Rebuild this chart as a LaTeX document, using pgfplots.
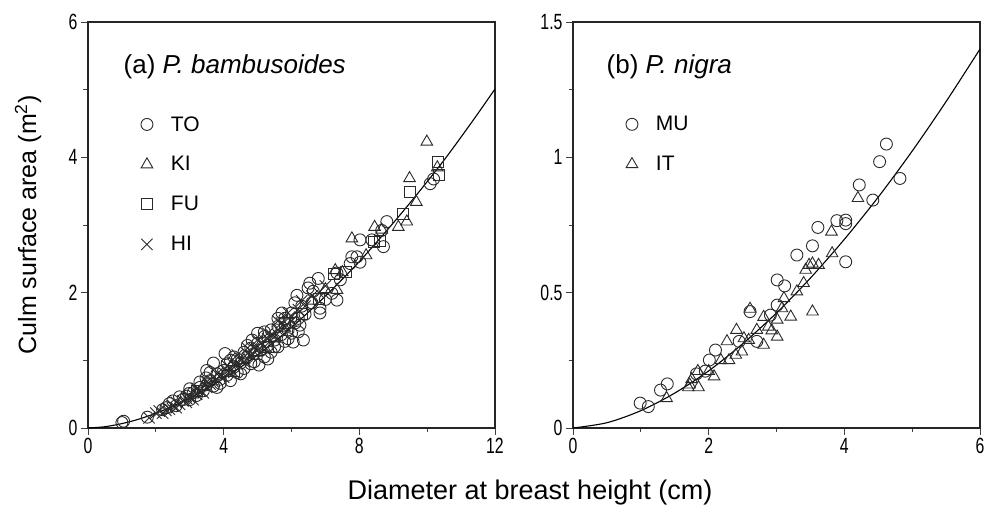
\documentclass[border=0pt]{standalone}
\usepackage{fontspec}
\setmainfont{Liberation Sans}
\newfontfamily\tickfont[FakeStretch=0.72]{Liberation Sans}
\usepackage{pgfplots}
\pgfplotsset{compat=1.18}

\definecolor{mk}{HTML}{2A2A2A}

\pgfplotsset{
  bamboo/.style={
    scale only axis, width=407pt, height=406pt,
    axis line style={line width=1.1pt, black!85},
    tick align=outside, xtick pos=left, ytick pos=left,
    major tick length=7pt, minor tick length=4.5pt,
    tick style={line width=0.8pt, black!75},
    minor x tick num=1, minor y tick num=1,
    tick label style={font=\tickfont\fontsize{22}{22}\selectfont},
    /pgf/number format/assume math mode=true,
    legend style={draw=none, fill=none, font=\fontsize{21}{21}\selectfont,
      row sep=20pt, inner xsep=0pt, inner ysep=0pt},
    legend cell align=left,
    clip=false,
  },
  legimg/.style={legend image code/.code={\draw[##1, only marks] plot coordinates {(14pt,0pt)}; \path[draw=none] (0pt,0pt) (36pt,0pt);}},
  pTO/.style={only marks, legimg, mark=o, mark size=6pt, mark options={draw=mk, line width=0.9pt, fill=none}},
  pKI/.style={only marks, legimg, mark=triangle, mark size=6.7pt, mark options={draw=mk, line width=0.9pt, fill=none}},
  pFU/.style={only marks, legimg, mark=square, mark size=5.5pt, mark options={draw=mk, line width=0.9pt, fill=none}},
  pHI/.style={only marks, legimg, mark=x, mark size=8pt, mark options={draw=mk, line width=0.9pt}},
}

\begin{document}
\begin{tikzpicture}
\useasboundingbox (-88pt,-85pt) rectangle (898pt,428pt);

% ---------------- (a) ----------------
\begin{axis}[bamboo, at={(0pt,0pt)},
  xmin=0, xmax=12, ymin=0, ymax=6,
  xtick={0,4,8,12}, ytick={0,2,4,6},
  ylabel={Culm surface area (m\textsuperscript{2})},
  ylabel style={at={(axis description cs:-0.147,0.5)}, anchor=center, rotate=0, font=\fontsize{25}{25}\selectfont},
  legend style={at={(axis description cs:0.11,0.773)}, anchor=north west},
]
\addplot[pTO] coordinates {
(1.0,0.08)(1.05,0.10)(1.75,0.16)(2.2,0.27)(2.3,0.30)(2.6,0.33)(2.7,0.46)(2.9,0.47)(3.0,0.42)(2.98,0.51)
(3.1,0.52)(3.2,0.48)(3.3,0.60)(3.4,0.55)(3.48,0.74)(3.5,0.64)(3.6,0.70)(3.7,0.96)(3.7,0.62)(3.8,0.80)
(3.9,0.72)(4.0,0.85)(4.04,1.10)(4.1,0.78)(4.1,0.95)(4.2,0.70)(4.3,0.90)(4.4,1.02)(4.4,0.82)(4.5,0.96)
(4.6,1.12)(4.6,0.88)(4.7,1.05)(4.84,1.30)(4.8,0.95)(4.9,1.10)(5.0,1.25)(5.04,0.93)(5.1,1.15)(5.2,1.35)
(5.2,1.05)(5.3,1.22)(5.4,1.45)(5.4,1.12)(5.5,1.30)(5.6,1.50)(5.6,1.20)(5.72,1.70)(5.8,1.62)(5.8,1.28)
(5.9,1.45)(6.0,1.70)(6.05,1.27)(6.1,1.55)(6.16,1.96)(6.2,1.62)(6.25,1.52)(6.3,1.80)(6.35,1.30)(6.4,1.68)
(6.49,2.07)(6.54,2.14)(6.6,1.85)(6.64,2.02)(6.79,2.21)(6.84,1.77)(6.84,1.70)(7.0,1.90)(7.19,1.99)(7.34,1.89)
(7.34,2.29)(7.44,2.19)(7.73,2.43)(7.78,2.53)(7.93,2.53)(8.02,2.45)(8.02,2.78)(8.37,2.78)(8.66,2.92)(8.71,2.68)
(8.81,3.05)(10.09,3.61)(10.19,3.68)(2.5,0.40)(3.3,0.68)(4.8,1.18)(5.5,1.20)(6.0,1.40)
(2.8,0.42)(3.6,0.82)(3.9,0.66)(4.3,1.05)(4.5,0.80)(5.0,1.40)(5.3,1.02)(5.6,1.62)(5.9,1.32)(6.2,1.42)
(2.4,0.36)(3.0,0.58)(3.5,0.85)(3.8,0.60)(4.2,1.00)(4.7,1.22)(4.9,0.98)(5.2,1.42)(5.7,1.38)(6.1,1.85)
};
\addlegendentry{TO}
\addplot[pKI] coordinates {
(3.4,0.62)(4.2,0.90)(4.6,1.00)(5.0,1.12)(5.5,1.32)(5.8,1.48)(6.1,1.62)(6.6,1.88)(7.0,2.05)(7.29,2.33)
(7.34,2.04)(7.5,2.30)(7.78,2.80)(8.2,2.55)(8.45,2.97)(8.66,2.93)(9.15,2.97)(9.40,3.05)(9.48,3.69)(9.68,3.34)
(9.99,4.23)(10.3,3.85)
};
\addlegendentry{KI}
\addplot[pFU] coordinates {
(3.2,0.55)(4.3,0.85)(5.3,1.20)(5.8,1.55)(6.3,1.68)(6.8,1.90)(7.24,2.28)(7.6,2.30)(8.42,2.75)(8.61,2.77)
(9.30,3.17)(9.50,3.49)(10.33,3.93)(10.36,3.74)
};
\addlegendentry{FU}
\addplot[pHI] coordinates {
(1.8,0.15)(2.0,0.22)(2.1,0.25)(2.2,0.22)(2.4,0.28)(2.5,0.33)(2.6,0.30)(2.7,0.35)(2.8,0.40)(2.9,0.38)
(3.0,0.45)(3.1,0.42)(3.2,0.50)(3.3,0.55)(3.4,0.52)(3.5,0.60)(3.6,0.65)(3.7,0.68)(3.8,0.72)(3.9,0.78)
(4.0,0.75)(4.1,0.85)(4.2,0.88)(4.3,0.82)(4.4,0.95)(4.5,1.00)(4.6,0.98)(4.7,1.10)(4.8,1.08)(4.9,1.18)
(5.0,1.15)(5.1,1.25)(5.2,1.20)(5.3,1.32)(5.4,1.38)(5.5,1.35)(5.6,1.45)(5.7,1.55)(5.8,1.50)(5.9,1.62)
(6.0,1.58)(6.2,1.75)(6.4,1.80)(6.6,1.95)(6.8,2.00)(7.0,2.10)
(2.3,0.26)(2.6,0.38)(2.9,0.44)(3.2,0.58)(3.5,0.68)(3.8,0.80)(4.1,0.92)(4.4,1.08)(4.7,1.18)(5.0,1.30)
(5.3,1.40)(5.6,1.58)(5.9,1.70)(6.3,1.88)
};
\addlegendentry{HI}
\addplot[smooth, line width=1.1pt, black, no markers, forget plot] coordinates {
(0,0)(0.5,0.019)(1,0.065)(1.5,0.131)(2,0.218)(2.5,0.322)(3,0.443)(3.5,0.580)(4,0.732)(4.5,0.899)
(5,1.081)(5.5,1.278)(6,1.488)(6.5,1.713)(7,1.95)(7.5,2.20)(8,2.46)(8.5,2.74)(9,3.03)(9.5,3.33)
(10,3.64)(10.5,3.96)(11,4.30)(11.5,4.65)(12,5.01)
};
\node[anchor=base west, font=\fontsize{26}{26}\selectfont] at (axis description cs:0.079,0.874) {(a) \textit{P. bambusoides}};
\end{axis}

% ---------------- (b) ----------------
\begin{axis}[bamboo, at={(485pt,0pt)},
  xmin=0, xmax=6, ymin=0, ymax=1.5,
  xtick={0,2,4,6}, ytick={0,0.5,1,1.5},
  legend style={at={(axis description cs:0.11,0.773)}, anchor=north west},
]
\addplot[pTO] coordinates {
(0.99,0.092)(1.11,0.079)(1.29,0.14)(1.39,0.163)(1.82,0.20)(1.95,0.21)(2.01,0.251)(2.10,0.288)
(2.45,0.32)(2.61,0.43)(2.71,0.32)(2.91,0.417)(3.01,0.454)(3.01,0.547)(3.12,0.525)(3.30,0.639)
(3.53,0.673)(3.61,0.741)(3.89,0.766)(4.02,0.768)(4.02,0.755)(4.02,0.614)(4.22,0.898)(4.42,0.842)
(4.52,0.984)(4.62,1.049)(4.82,0.922)
};
\addlegendentry{MU}
\addplot[pKI] coordinates {
(1.38,0.11)(1.72,0.16)(1.70,0.15)(1.85,0.15)(1.75,0.18)(1.84,0.21)(2.0,0.21)(2.08,0.19)(2.18,0.25)
(2.27,0.32)(2.3,0.25)(2.4,0.27)(2.41,0.362)(2.49,0.282)(2.52,0.331)(2.59,0.325)(2.61,0.44)(2.71,0.362)
(2.81,0.307)(2.81,0.41)(2.88,0.374)(2.93,0.36)(3.01,0.337)(3.01,0.40)(3.08,0.442)(3.11,0.479)(3.21,0.411)
(3.30,0.504)(3.40,0.535)(3.43,0.584)(3.48,0.602)(3.53,0.607)(3.53,0.43)(3.62,0.602)(3.82,0.645)
(3.81,0.725)(4.20,0.849)
};
\addlegendentry{IT}
\addplot[smooth, line width=1.1pt, black, no markers, forget plot] coordinates {
(0,0)(0.5,0.0195)(1,0.064)(1.5,0.129)(2,0.211)(2.5,0.311)(3,0.425)(3.5,0.554)(4,0.697)(4.5,0.853)
(5,1.023)(5.5,1.206)(6,1.40)
};
\node[anchor=base west, font=\fontsize{26}{26}\selectfont] at (axis description cs:0.074,0.874) {(b) \textit{P. nigra}};
\end{axis}

\node[anchor=center, font=\fontsize{27}{27}\selectfont] at (442pt,-65pt) {Diameter at breast height (cm)};
\end{tikzpicture}
\end{document}
